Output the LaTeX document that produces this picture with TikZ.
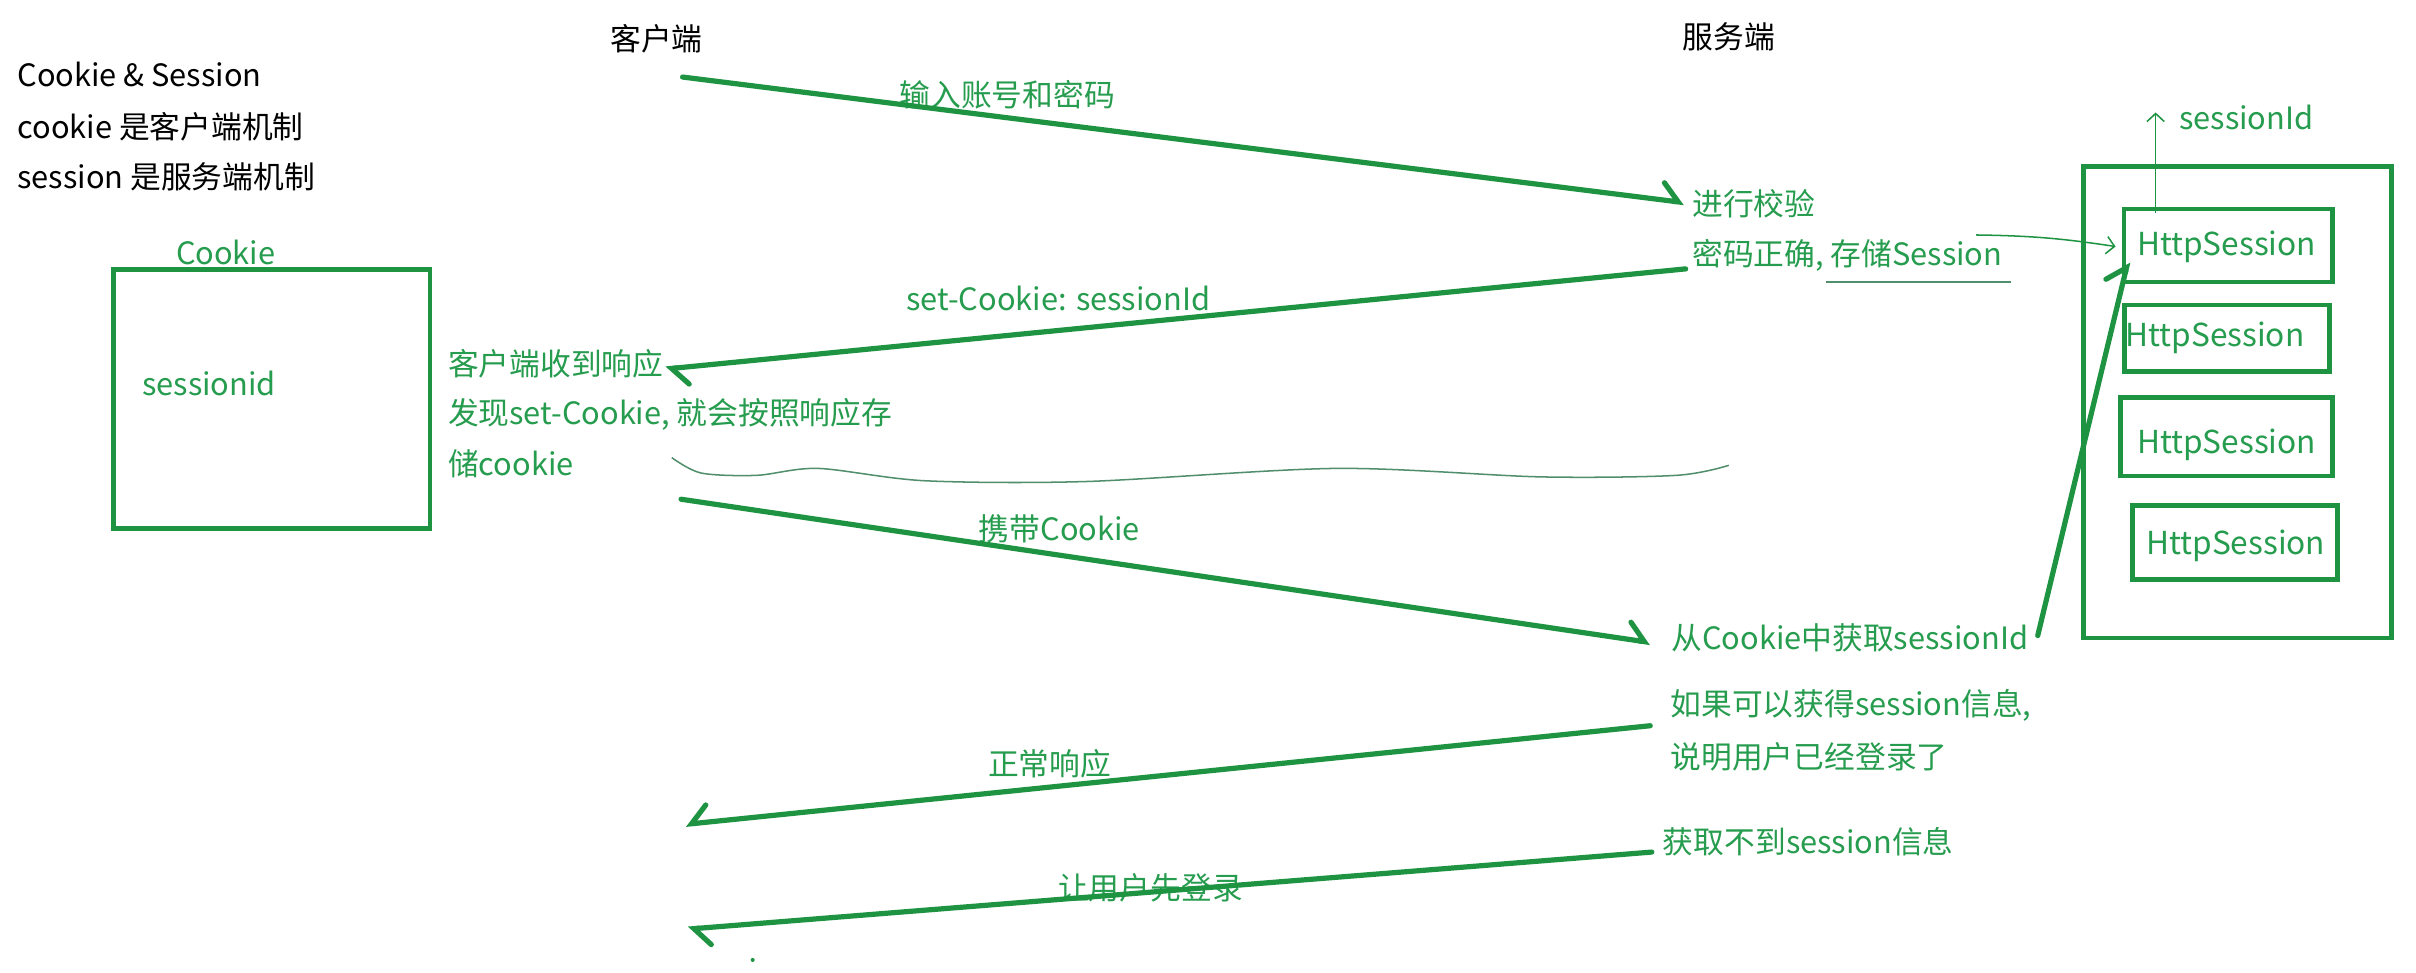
\documentclass[tikz,border=0pt]{standalone}
\usepackage{fontspec}
\setmainfont{Noto Sans CJK SC}
\usetikzlibrary{arrows.meta,fit}
\definecolor{lg}{RGB}{30,148,66}
\definecolor{tg}{RGB}{38,156,78}
\definecolor{wg}{RGB}{80,142,108}
\begin{document}
\begin{tikzpicture}[x=0.025cm,y=-0.025cm,
  txt/.style={inner sep=0pt, anchor=west, font=\fontsize{14.2}{17}\selectfont},
  blk/.style={txt,text=black},
  grn/.style={txt,text=tg},
  hstxt/.style={inner sep=0pt, text=tg, font=\fontsize{14.6}{17}\selectfont},
  msg/.style={draw=lg, line width=2.4pt, line cap=round,
    -{Straight Barb[harpoon, length=0.26cm, width=0.56cm, line cap=round]}},
  msgswap/.style={draw=lg, line width=2.4pt, line cap=round,
    -{Straight Barb[harpoon, swap, length=0.26cm, width=0.56cm, line cap=round]}},
  thinarrow/.style={draw=lg, line width=0.7pt, -{Straight Barb[length=0.13cm, width=0.28cm]}},
  boxline/.style={draw=lg, line width=2.2pt, inner sep=0pt},
  wave/.style={draw=wg, line width=0.7pt},
]
\fill[white] (0,0) rectangle (1568,631);
\useasboundingbox (0,0) rectangle (1568,631);

% headings
\node[blk, anchor=center] (client) at (426,25) {客户端};
\node[blk, anchor=center] (server) at (1122,24) {服务端};
\node[blk] (t1) at (11,48) {Cookie \& Session};
\node[blk] (t2) at (11,82) {cookie 是客户端机制};
\node[blk] (t3) at (11,115) {session 是服务端机制};

% cookie box
\node[boxline, fit={(73.5,175) (279,343)}] (cbox) {};
\node[grn, anchor=center] (clbl) at (146.5,164) {Cookie};
\node[grn] (sid) at (92,249) {sessionid};

% client notes
\node[grn] (c1) at (290.5,236) {客户端收到响应};
\node[grn] (c2) at (290.5,269) {发现set-Cookie, 就会按照响应存};
\node[grn] (c3) at (290.5,301) {储cookie};

% server notes
\node[grn] (s1) at (1098,132.5) {进行校验};
\node[grn] (s2) at (1098,165.5) {密码正确, 存储Session};
\node[grn] (s3) at (1084.5,414) {从Cookie中获取sessionId};
\node[grn] (s4) at (1084,457.5) {如果可以获得session信息,};
\node[grn] (s5) at (1084,491) {说明用户已经登录了};
\node[grn] (s6) at (1079,546.5) {获取不到session信息};

% message labels
\node[grn] (m1) at (583.5,61.5) {输入账号和密码};
\node[grn] (m2) at (588,193.5) {set-Cookie: sessionId};
\node[grn] (m4) at (635,343) {携带Cookie};
\node[grn] (m5) at (641,495.5) {正常响应};
\node[grn] (m6) at (686.5,576) {让用户先登录};

% session store
\node[boxline, fit={(1352,108) (1552,414)}] (store) {};
\node[boxline, fit={(1378.5,135.6) (1514,183)}] (hs1) {};
\node[boxline, fit={(1379,198) (1512,241)}] (hs2) {};
\node[boxline, fit={(1376,258) (1514,309)}] (hs3) {};
\node[boxline, fit={(1384,328) (1517,376)}] (hs4) {};
\node[hstxt] (h1) at (1445,160) {HttpSession};
\node[hstxt] (h2) at (1437.5,219) {HttpSession};
\node[hstxt] (h3) at (1445,289) {HttpSession};
\node[hstxt] (h4) at (1451,354) {HttpSession};
\node[grn] (sidl) at (1414,76.5) {sessionId};

% endpoints
\coordinate (a1s) at (443,50);
\coordinate (a1e) at (1093,131.5);
\coordinate (a2s) at (1094,174.5);
\coordinate (a2e) at (432,239.5);
\coordinate (a4s) at (442,324);
\coordinate (a4e) at (1071,417);
\coordinate (a5s) at (1071,471);
\coordinate (a5e) at (445,535);
\coordinate (a6s) at (1072,553);
\coordinate (a6e) at (446.5,603);
\coordinate (a7s) at (1322.5,412.5);
\coordinate (a7e) at (1381,170);
\coordinate (up0) at (1399,138);
\coordinate (up1) at (1399,73);
\coordinate (cv0) at (1282.5,152.5);
\coordinate (cv1) at (1373,160);

% messages
\draw[msg] (a1s) -- (a1e);
\draw[msg] (a2s) -- (a2e);
\draw[msg] (a4s) -- (a4e);
\draw[msgswap] (a5s) -- (a5e);
\draw[msg] (a6s) -- (a6e);
\draw[msg] (a7s) -- (a7e);

% thin arrows
\draw[thinarrow] (up0) -- (up1);
\draw[thinarrow] (cv0) .. controls (1320,153) and (1340,155) .. (cv1);

% underline and wave
\draw[wave] (1185,183) -- (1305,183);
\draw[wave] plot[smooth, tension=0.5] coordinates {(436,297) (455,307) (491,308.5) (531,304) (600,312) (705,312.5) (867,304) (1000,309.5) (1088,308.5) (1122,302)};

% small dot
\fill[lg] (488.5,623) circle (1.3);
\end{tikzpicture}
\end{document}
